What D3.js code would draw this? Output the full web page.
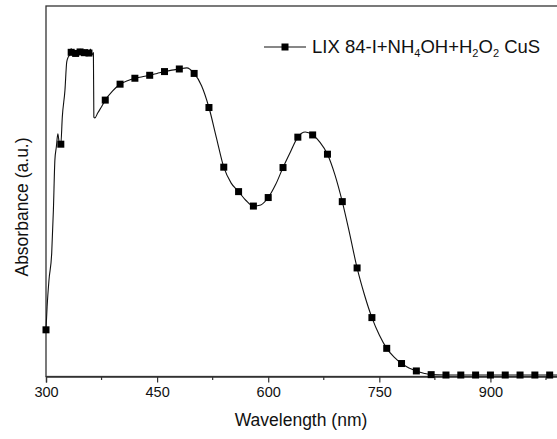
<!DOCTYPE html>
<html>
<head>
<meta charset="utf-8">
<script src="https://cdn.jsdelivr.net/npm/d3@7"></script>
<style>
  body { margin: 0; background: #fff; }
  text { font-family: "Liberation Sans", Arial, sans-serif; fill: #111; }
</style>
</head>
<body>
<div id="chart"></div>
<script>
// Line trace of the spectrum (wavelength nm, absorbance a.u.)
var lineWl  = [300, 301.5, 304, 307.7, 310, 312, 314, 316, 318, 320, 322, 325.6, 328, 330,
               332, 334, 336, 338, 340, 342, 344, 346, 348, 350, 352, 354, 356, 358, 360, 362, 364,
               364.6, 366, 370, 375, 380, 390, 400, 410, 420, 430, 440, 450, 460, 470, 480, 490, 500,
               510, 520, 530, 540, 550, 560, 570, 580, 590, 600, 610, 620, 630, 640, 650, 660, 670, 680,
               690, 700, 710, 720, 730, 740, 750, 760, 770, 780, 790, 800, 810, 820, 840, 860, 880,
               900, 920, 940, 960, 980, 1000];
var lineAbs = [0.126, 0.188, 0.26, 0.333, 0.45, 0.584, 0.62, 0.655, 0.63, 0.627, 0.70, 0.773, 0.849, 0.862,
               0.868, 0.885, 0.872, 0.880, 0.866, 0.878, 0.870, 0.884, 0.868, 0.876, 0.882, 0.867, 0.880, 0.870, 0.884, 0.868, 0.874,
               0.70, 0.698, 0.712, 0.728, 0.746, 0.771, 0.789, 0.798, 0.805, 0.809, 0.813, 0.818, 0.823, 0.827, 0.830, 0.833, 0.818,
               0.785, 0.726, 0.645, 0.565, 0.522, 0.499, 0.475, 0.460, 0.463, 0.483, 0.518, 0.564, 0.606, 0.646, 0.66, 0.652, 0.632, 0.600,
               0.545, 0.472, 0.385, 0.293, 0.22, 0.159, 0.112, 0.076, 0.052, 0.035, 0.023, 0.015, 0.009, 0.005, 0.004, 0.004, 0.004,
               0.004, 0.004, 0.004, 0.004, 0.004, 0.004];

// Marker positions
var markWl  = [300, 320, 334, 340, 346, 352, 358, 380, 400, 420, 440, 460, 480, 500, 520,
               540, 560, 580, 600, 620, 640, 660, 680, 700, 720, 740, 760, 780, 800, 820, 840, 860, 880,
               900, 920, 940, 960, 980];
var markAbs = [0.126, 0.627, 0.875, 0.872, 0.876, 0.874, 0.873, 0.746, 0.789, 0.805, 0.813, 0.823, 0.830, 0.818, 0.726,
               0.565, 0.499, 0.460, 0.483, 0.564, 0.646, 0.652, 0.600, 0.472, 0.293, 0.159, 0.076, 0.035, 0.015, 0.005, 0.004, 0.004, 0.004,
               0.004, 0.004, 0.004, 0.004, 0.004];

var xTicks = [300, 450, 600, 750, 900];
var xMinor = [375, 525, 675, 825, 975];
var seriesName = ["LIX 84-I+NH", "4", "OH+H", "2", "O", "2", " CuS"];

var W = 557, H = 439;
var margin = {top: 6, left: 46, bottom: 62};
var x = d3.scaleLinear().domain([300, 1000]).range([margin.left, margin.left + 700 * 0.7407]);
var y = d3.scaleLinear().domain([0, 1]).range([H - margin.bottom - 0.5, margin.top]);

var svg = d3.select("#chart").append("svg")
    .attr("width", W).attr("height", H);

var line = lineWl.map((d, i) => [d, lineAbs[i]]);
var marks = markWl.map((d, i) => [d, markAbs[i]]);

// frame
svg.append("rect")
    .attr("x", x(300)).attr("y", y(1))
    .attr("width", x(1000) - x(300)).attr("height", y(0) - y(1))
    .attr("fill", "none").attr("stroke", "#333").attr("stroke-width", 1.3);

// x axis
var xAxis = svg.append("g")
    .attr("transform", "translate(0," + y(0) + ")")
    .call(d3.axisBottom(x).tickValues(xTicks).tickSize(6).tickPadding(4).tickFormat(d3.format("d")));
xAxis.select(".domain").attr("stroke", "#333").attr("stroke-width", 1.3);
xAxis.selectAll(".tick line").attr("stroke", "#333").attr("stroke-width", 1.2);
xAxis.selectAll(".tick text").attr("font-size", 14.5).attr("font-family", "Liberation Sans, Arial, sans-serif").attr("fill", "#111");

svg.append("g").selectAll("line")
    .data(xMinor).enter().append("line")
    .attr("x1", d => x(d)).attr("x2", d => x(d))
    .attr("y1", y(0)).attr("y2", y(0) + 3.5)
    .attr("stroke", "#333").attr("stroke-width", 1.2);

// curve
svg.append("path")
    .datum(line)
    .attr("fill", "none").attr("stroke", "#111").attr("stroke-width", 1.1)
    .attr("d", d3.line().x(d => x(d[0])).y(d => y(d[1])).curve(d3.curveMonotoneX));

var ms = 7;
svg.append("g").selectAll("rect")
    .data(marks).enter().append("rect")
    .attr("x", d => x(d[0]) - ms / 2).attr("y", d => y(d[1]) - ms / 2)
    .attr("width", ms).attr("height", ms).attr("fill", "#000");

// axis titles
svg.append("text")
    .attr("x", 301).attr("y", 426).attr("text-anchor", "middle")
    .attr("font-size", 17.5).text("Wavelength (nm)");
svg.append("text")
    .attr("transform", "translate(28,207) rotate(-90)").attr("text-anchor", "middle")
    .attr("font-size", 17.5).text("Absorbance (a.u.)");

// legend
var ly = 47;
svg.append("line").attr("x1", 264).attr("x2", 306).attr("y1", ly).attr("y2", ly)
    .attr("stroke", "#111").attr("stroke-width", 1.1);
svg.append("rect").attr("x", 285 - ms / 2).attr("y", ly - ms / 2)
    .attr("width", ms).attr("height", ms).attr("fill", "#000");
var lt = svg.append("text").attr("x", 312).attr("y", ly + 6).attr("font-size", 18.5);
seriesName.forEach((s, i) => {
    var t = lt.append("tspan").text(s);
    if (i % 2 === 1) t.attr("font-size", 11).attr("dy", 4);
    else if (i > 0) t.attr("dy", -4);
});
</script>
</body>
</html>
